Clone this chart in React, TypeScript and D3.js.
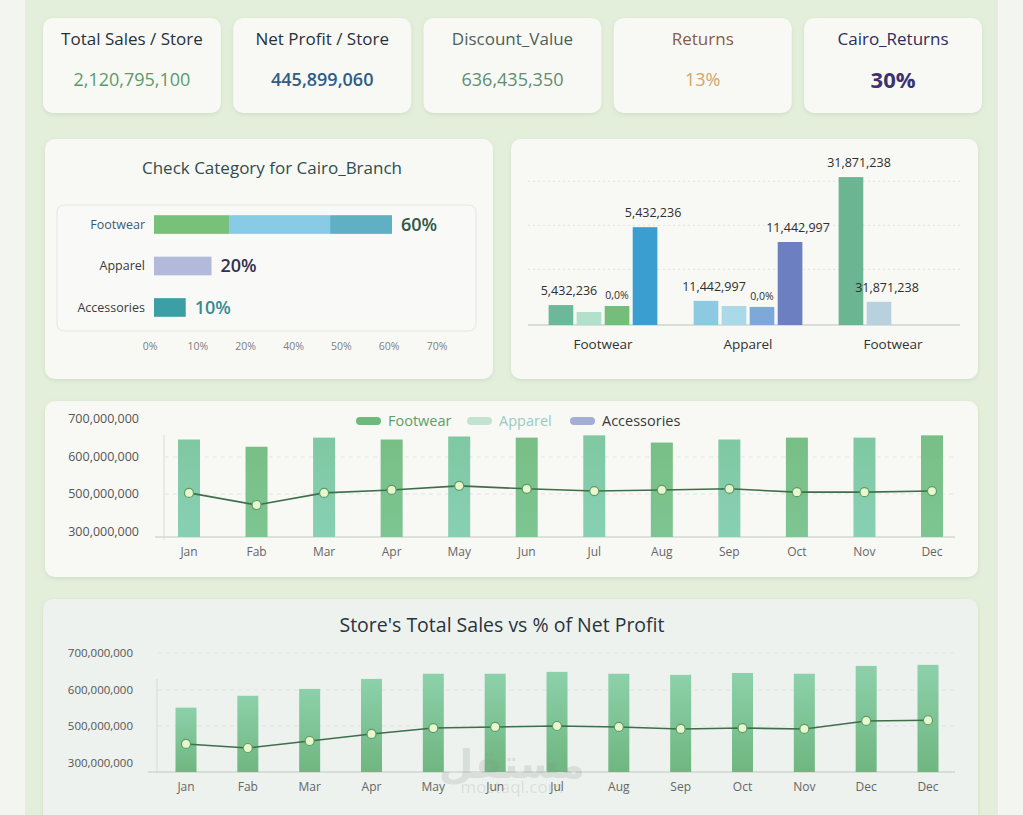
import React from "react";
import * as d3 from "d3";

// KPI cards
const kpiTitles = ["Total Sales / Store", "Net Profit / Store", "Discount_Value", "Returns", "Cairo_Returns"];
const kpiValues = ["2,120,795,100", "445,899,060", "636,435,350", "13%", "30%"];

// Check Category for Cairo_Branch
const cairoCats = ["Footwear", "Apparel", "Accessories"];
const cairoShare = [60, 14.5, 8];
const footwearParts = [18.9, 25.5, 15.6];
const cairoLabels = ["60%", "20%", "10%"];
const pctTicks = ["0%", "10%", "20%", "40%", "50%", "60%", "70%"];

// grouped bars (millions)
const groupNames = ["Footwear", "Apparel", "Footwear"];
const groupValues = [
  [4.3, 2.8, 4.1, 21.1],
  [5.2, 4.1, 3.9, 17.9],
  [31.9, 5.0],
];
const groupLabels = [
  ["5,432,236", "", "0,0%", "5,432,236"],
  ["11,442,997", "", "0,0%", "11,442,997"],
  ["31,871,238", "31,871,238"],
];
const groupGrid = [12, 21.5, 31];

// monthly panel
const months = ["Jan", "Fab", "Mar", "Apr", "May", "Jun", "Jul", "Aug", "Sep", "Oct", "Nov", "Dec"];
const monthlySales = [646, 627, 651, 646, 654, 651, 657, 638, 646, 651, 651, 657];
const monthlyLine = [503, 442, 503, 511, 522, 514, 508, 511, 514, 505, 505, 508];
const legendNames = ["Footwear", "Apparel", "Accessories"];
const yTicks = [700, 600, 500, 300];

// store's total sales vs net profit
const storeMonths = ["Jan", "Fab", "Mar", "Apr", "May", "Jun", "Jul", "Aug", "Sep", "Oct", "Nov", "Dec", "Dec"];
const storeSales = [551, 584, 603, 630, 644, 644, 649, 644, 641, 646, 644, 665, 668];
const storeProfit = [403, 381, 419, 457, 489, 495, 500, 495, 484, 489, 484, 514, 516];

const FONT = "'Open Sans', 'Noto Sans', sans-serif";
const fmt = d3.format(",");

const kpiTitleColors = ["#27313b", "#27313b", "#4d5f5a", "#8a5a48", "#2c2d5a"];
const kpiValueColors = ["#5c9a6b", "#2f5d86", "#5f8c73", "#d2a56c", "#3b3370"];
const kpiValueWeights = [500, 600, 500, 500, 700];
const footSegColors = ["#78c17b", "#88cbe6", "#5fb0c3"];
const catColors = ["", "#b3b9da", "#3c9fa5"];
const catLabelColors = ["#2f5746", "#34304e", "#3a8a92"];
const catNameColors = ["#3c5a78", "#3a3a3a", "#3a3a3a"];
const groupColors = [
  ["#6cb89b", "#b3e0cb", "#74bd7b", "#3a9fd0"],
  ["#8ec9e2", "#aad9e7", "#7ea8d9", "#6b7fc1"],
  ["#6bb592", "#b9d1de"],
];
const legendSwatch = ["#6fb97c", "#c2e4cf", "#a4aed2"];
const legendText = ["#5aa06a", "#9ccac0", "#3a3a3a"];

function Card({ x, y, w, h, fill = "#f8f9f5" }: any) {
  return <rect x={x} y={y} width={w} height={h} rx={10} fill={fill} filter="url(#shadow)" />;
}

export default function App() {
  // KPI layout
  const kpiX = d3.scaleBand<string>().domain(kpiTitles).range([43, 982]).paddingInner(0.065);

  // panel 1
  const cx = d3.scaleLinear().domain([0, 60]).range([154, 392]);
  const cy = d3.scaleBand<string>().domain(cairoCats).range([204, 328]).paddingInner(0.55).paddingOuter(0.27);
  const pctX = d3.scalePoint<string>().domain(pctTicks).range([150, 437]);
  let acc = 0;
  const footSegs = footwearParts.map((v) => {
    const s = { x0: acc, x1: acc + v };
    acc += v;
    return s;
  });

  // panel 2
  const gx0 = d3.scaleBand<number>().domain(d3.range(groupNames.length)).range([530.5, 965.5]).paddingInner(0.25).paddingOuter(0.125);
  const gx1 = d3.scaleBand<number>().domain(d3.range(4)).range([0, gx0.bandwidth()]).paddingInner(0.12);
  const gy = d3.scaleLinear().domain([0, 33]).range([325, 172]);

  // panel 3
  const my = d3.scaleLinear().domain([300, 500, 600, 700]).range([532, 494, 457, 419]);
  const mx = d3.scalePoint<string>().domain(months).range([189, 932]);
  const mBase = 537;
  const mLine = d3.line<number>().x((_, i) => mx(months[i])!).y((d) => my(d));
  let lx = 356;
  const legendPos = legendNames.map((n) => {
    const p = lx;
    lx += 47 + n.length * 8;
    return p;
  });

  // panel 4
  const sy = d3.scaleLinear().domain([300, 500, 600, 700]).range([763, 726, 690, 653]);
  const sx = d3.scalePoint<number>().domain(d3.range(storeMonths.length)).range([186, 928]);
  const sBase = 772;
  const sLine = d3.line<number>().x((_, i) => sx(i)!).y((d) => sy(d));

  return (
    <svg width={1023} height={815} style={{ position: "absolute", left: 0, top: 0, display: "block" }} fontFamily={FONT}>
      <defs>
        <filter id="shadow" x="-10%" y="-10%" width="120%" height="130%">
          <feDropShadow dx={0} dy={1.5} stdDeviation={2} floodColor="#6f8a66" floodOpacity={0.18} />
        </filter>
        <linearGradient id="gMint" x1="0" y1="0" x2="0" y2="1">
          <stop offset="0%" stopColor="#7fc8a2" />
          <stop offset="100%" stopColor="#88d0b4" />
        </linearGradient>
        <linearGradient id="gGreen" x1="0" y1="0" x2="0" y2="1">
          <stop offset="0%" stopColor="#78bf86" />
          <stop offset="100%" stopColor="#7dc592" />
        </linearGradient>
        <linearGradient id="gStore" x1="0" y1="0" x2="0" y2="1">
          <stop offset="0%" stopColor="#8cd1aa" />
          <stop offset="100%" stopColor="#6fb680" />
        </linearGradient>
      </defs>

      <rect x={0} y={0} width={1023} height={815} fill="#f3f6f0" />
      <rect x={25} y={-20} width={973} height={860} rx={18} fill="#e4efdb" />

      {/* KPI cards */}
      {kpiTitles.map((t, i) => {
        const x = kpiX(t)!;
        const w = kpiX.bandwidth();
        const big = i === 4;
        return (
          <g key={t}>
            <Card x={x} y={18} w={w} h={95} />
            <text x={x + w / 2} y={39} dy="0.35em" textAnchor="middle" fontSize={17} fontWeight={500} fill={kpiTitleColors[i]}>
              {t}
            </text>
            <text x={x + w / 2} y={80} dy="0.35em" textAnchor="middle" fontSize={big ? 22 : 18} fontWeight={kpiValueWeights[i]} fill={kpiValueColors[i]}>
              {kpiValues[i]}
            </text>
          </g>
        );
      })}

      {/* Panel 1 */}
      <Card x={45} y={139} w={448} h={240} />
      <text x={272} y={168} dy="0.35em" textAnchor="middle" fontSize={17} fill="#2f4d4e">
        Check Category for Cairo_Branch
      </text>
      <rect x={57} y={205} width={419} height={126} rx={7} fill="#f9faf7" stroke="#e3e6e0" />
      {cairoCats.map((c, i) => {
        const y = cy(c)!;
        const h = cy.bandwidth();
        return (
          <g key={c}>
            <text x={145} y={y + h / 2} dy="0.35em" textAnchor="end" fontSize={12.5} fill={catNameColors[i]}>
              {c}
            </text>
            {i === 0 ? (
              footSegs.map((s, j) => (
                <rect key={j} x={cx(s.x0)} y={y} width={cx(s.x1) - cx(s.x0)} height={h} fill={footSegColors[j]} />
              ))
            ) : (
              <rect x={cx(0)} y={y} width={cx(cairoShare[i]) - cx(0)} height={h} fill={catColors[i]} />
            )}
            <text x={cx(cairoShare[i]) + 9} y={y + h / 2} dy="0.35em" fontSize={18} fontWeight={600} fill={catLabelColors[i]}>
              {cairoLabels[i]}
            </text>
          </g>
        );
      })}
      {pctTicks.map((t) => (
        <text key={t} x={pctX(t)} y={346} dy="0.35em" textAnchor="middle" fontSize={10.5} fill="#808080">
          {t}
        </text>
      ))}

      {/* Panel 2 */}
      <Card x={511} y={139} w={467} h={240} />
      {groupGrid.map((g) => (
        <line key={g} x1={528} x2={960} y1={gy(g)} y2={gy(g)} stroke="#dfe3dc" strokeDasharray="2 3" />
      ))}
      <line x1={528} x2={960} y1={gy(0)} y2={gy(0)} stroke="#cfd5cf" strokeWidth={1.5} />
      {groupValues.map((vals, gi) => (
        <g key={gi} transform={`translate(${gx0(gi)},0)`}>
          {vals.map((v, bi) => (
            <rect key={bi} x={gx1(bi)} y={gy(v)} width={gx1.bandwidth()} height={gy(0) - gy(v)} fill={groupColors[gi][bi]} />
          ))}
          {vals.map((v, bi) => {
            const lab = groupLabels[gi][bi];
            if (!lab) return null;
            const pct = lab.includes("%");
            return (
              <text key={"l" + bi} x={gx1(bi)! + gx1.bandwidth() / 2 + (pct ? 0 : 8)} y={gy(v) - (pct ? 7 : 10)} textAnchor="middle" fontSize={pct ? 10.5 : 12.5} fill="#2e2e2e">
                {lab}
              </text>
            );
          })}
        </g>
      ))}
      {groupNames.map((n, gi) => (
        <text key={gi} x={gx0(gi)! + gx0.bandwidth() / 2} y={344} dy="0.35em" textAnchor="middle" fontSize={13.5} fill="#333">
          {n}
        </text>
      ))}

      {/* Panel 3 */}
      <Card x={45} y={401} w={933} h={176} />
      {[600, 500].map((t) => (
        <line key={t} x1={165} x2={955} y1={my(t)} y2={my(t)} stroke="#e2e6df" strokeDasharray="4 4" />
      ))}
      <line x1={164} x2={164} y1={435} y2={540} stroke="#d8ddd6" />
      <line x1={155} x2={955} y1={mBase} y2={mBase} stroke="#d3d8d2" strokeWidth={1.5} />
      {yTicks.map((t) => (
        <text key={t} x={139} y={my(t)} dy="0.35em" textAnchor="end" fontSize={12.5} fill="#555">
          {fmt(t * 1e6)}
        </text>
      ))}
      {monthlySales.map((v, i) => (
        <rect key={i} x={mx(months[i])! - 11} y={my(v)} width={22} height={mBase - my(v)} fill={i % 2 === 0 ? "url(#gMint)" : "url(#gGreen)"} />
      ))}
      <path d={mLine(monthlyLine)!} fill="none" stroke="#3e6f4a" strokeWidth={1.6} />
      {monthlyLine.map((v, i) => (
        <circle key={i} cx={mx(months[i])} cy={my(v)} r={4.5} fill="#e8f8cc" stroke="#5c9c6a" strokeWidth={1.2} />
      ))}
      {months.map((m) => (
        <text key={m} x={mx(m)} y={552} dy="0.35em" textAnchor="middle" fontSize={12} fill="#666">
          {m}
        </text>
      ))}
      {legendNames.map((n, i) => (
        <g key={n}>
          <rect x={legendPos[i]} y={417} width={25} height={8} rx={4} fill={legendSwatch[i]} />
          <text x={legendPos[i] + 32} y={421} dy="0.35em" fontSize={14.5} fill={legendText[i]}>
            {n}
          </text>
        </g>
      ))}

      {/* Panel 4 */}
      <Card x={43} y={599} w={935} h={240} fill="#edf2ef" />
      <text x={502} y={625} dy="0.35em" textAnchor="middle" fontSize={19.5} fill="#28333e">
        Store's Total Sales vs % of Net Profit
      </text>
      {[700, 600, 500].map((t) => (
        <line key={t} x1={158} x2={955} y1={sy(t)} y2={sy(t)} stroke="#dfe5e0" strokeDasharray="4 4" />
      ))}
      <line x1={157} x2={157} y1={679} y2={773} stroke="#d3d9d3" />
      <line x1={148} x2={955} y1={sBase} y2={sBase} stroke="#cfd6cf" strokeWidth={1.5} />
      {yTicks.map((t) => (
        <text key={t} x={133} y={sy(t)} dy="0.35em" textAnchor="end" fontSize={11.5} fill="#555">
          {fmt(t * 1e6)}
        </text>
      ))}
      {storeSales.map((v, i) => (
        <rect key={i} x={sx(i)! - 10.5} y={sy(v)} width={21} height={sBase - sy(v)} fill="url(#gStore)" />
      ))}
      <path d={sLine(storeProfit)!} fill="none" stroke="#3e6f4a" strokeWidth={1.6} />
      {storeProfit.map((v, i) => (
        <circle key={i} cx={sx(i)} cy={sy(v)} r={4.5} fill="#e8f8cc" stroke="#5c9c6a" strokeWidth={1.2} />
      ))}
      {storeMonths.map((m, i) => (
        <text key={i} x={sx(i)} y={787} dy="0.35em" textAnchor="middle" fontSize={12} fill="#666">
          {m}
        </text>
      ))}

      {/* watermark */}
      <g opacity={0.2} fill="#8a948c">
        <text x={512} y={778} textAnchor="middle" fontSize={40} fontWeight={700} fontFamily="'DejaVu Sans', sans-serif">
          مستقل
        </text>
        <text x={512} y={793} textAnchor="middle" fontSize={17}>
          mostaql.com
        </text>
      </g>
    </svg>
  );
}
